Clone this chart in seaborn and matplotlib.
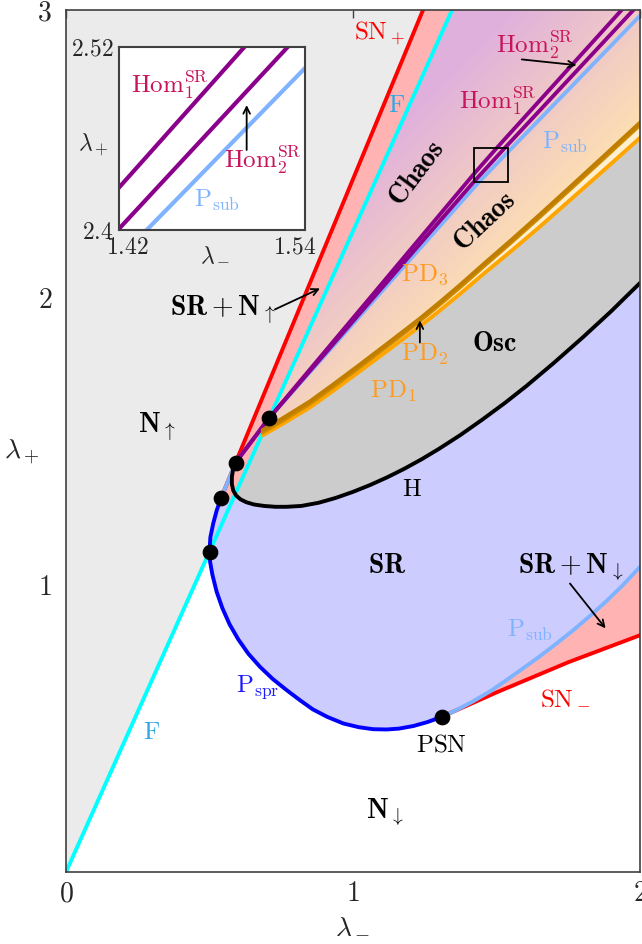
import numpy as np
import matplotlib
matplotlib.use('Agg')
import matplotlib.pyplot as plt
import seaborn as sns
from matplotlib.patches import Polygon, Rectangle
from matplotlib.colors import to_rgb
from matplotlib.transforms import ScaledTranslation

# curves (lambda_-, lambda_+)
F_x = [0.0, 1.345]
F_y = [0.0, 3.0]

SNp_x = [0.540, 0.591, 1.244]
SNp_y = [1.301, 1.425, 3.0]

SNm_x = [1.309, 1.50, 1.75, 2.0]
SNm_y = [0.540, 0.625, 0.730, 0.824]

Pspr_x = [1.309, 1.26, 1.21, 1.16, 1.117, 1.07, 1.02, 0.966, 0.91, 0.86, 0.815, 0.77, 0.72, 0.676,
          0.635, 0.60, 0.57, 0.545, 0.525, 0.510, 0.502, 0.500, 0.503, 0.513, 0.525, 0.540]
Pspr_y = [0.540, 0.522, 0.508, 0.499, 0.496, 0.497, 0.504, 0.517, 0.540, 0.566, 0.598, 0.632, 0.672, 0.714,
          0.760, 0.810, 0.862, 0.918, 0.975, 1.035, 1.080, 1.115, 1.165, 1.213, 1.258, 1.301]

Psub_lo_x = [1.309, 1.36, 1.42, 1.48, 1.535, 1.59, 1.65, 1.71, 1.768, 1.83, 1.88, 1.94, 2.0]
Psub_lo_y = [0.540, 0.563, 0.595, 0.630, 0.668, 0.707, 0.750, 0.796, 0.842, 0.895, 0.940, 0.998, 1.062]

Psub_hi_x = [0.540, 0.591, 0.707, 1.0, 1.4377, 1.54, 1.75, 2.0]
Psub_hi_y = [1.301, 1.425, 1.579, 1.908, 2.40, 2.506, 2.722, 2.98]

Hom1_x = [0.591, 0.707, 1.42, 1.501, 1.936]
Hom1_y = [1.425, 1.579, 2.428, 2.52, 3.0]
Hom2_x = [0.591, 0.707, 1.42, 1.529, 1.977]
Hom2_y = [1.425, 1.579, 2.401, 2.52, 3.0]

H_x = [0.591, 0.582, 0.578, 0.578, 0.583, 0.593, 0.608, 0.628, 0.655, 0.690, 0.730, 0.769, 0.82, 0.88,
       0.94, 1.00, 1.06, 1.12, 1.18, 1.24, 1.30, 1.373, 1.45, 1.53, 1.605, 1.70, 1.80, 1.90, 2.0]
H_y = [1.425, 1.400, 1.375, 1.350, 1.327, 1.310, 1.297, 1.287, 1.279, 1.274, 1.271, 1.271, 1.274, 1.285,
       1.302, 1.323, 1.347, 1.374, 1.404, 1.437, 1.473, 1.520, 1.574, 1.633, 1.692, 1.772, 1.860, 1.952, 2.050]

PD_x = [0.685, 0.75, 0.85, 0.93, 1.024, 1.12, 1.233, 1.30, 1.373, 1.46, 1.55, 1.65, 1.75, 1.87, 2.0]
PD1_y = [1.520, 1.557, 1.617, 1.674, 1.743, 1.814, 1.899, 1.952, 2.012, 2.086, 2.160, 2.245, 2.333, 2.439, 2.555]
PD2_y = [1.530, 1.568, 1.630, 1.688, 1.758, 1.831, 1.918, 1.973, 2.035, 2.112, 2.190, 2.279, 2.370, 2.480, 2.600]
PD3_y = [1.538, 1.576, 1.638, 1.696, 1.766, 1.839, 1.926, 1.981, 2.043, 2.120, 2.198, 2.287, 2.378, 2.488, 2.608]

dots_x = [0.500, 0.540, 0.591, 0.707, 1.309]
dots_y = [1.115, 1.301, 1.425, 1.579, 0.540]

sns.set_theme(style='white')
plt.rcParams['mathtext.fontset'] = 'cm'
plt.rcParams['font.family'] = ['DejaVu Serif']

fig = plt.figure(figsize=(6.42, 9.44), dpi=100)
ax = fig.add_axes([66 / 642, 72 / 944, 574 / 642, 862 / 944])
ax.set_facecolor('white')

def F_at(y):
    return float(np.interp(y, F_y, F_x))

def poly(xs, ys, color, z):
    p = Polygon(np.column_stack([xs, ys]), closed=True, facecolor=color, edgecolor='none', zorder=z)
    ax.add_patch(p)
    return p

# regions
poly([0, F_x[1], 0], [0, 3, 3], '#EBEBEB', 0.5)

lav_x = Pspr_x + [0.591] + H_x[1:] + [2.0] + Psub_lo_x[::-1]
lav_y = Pspr_y + [1.425] + H_y[1:] + [1.062] + Psub_lo_y[::-1]
poly(lav_x, lav_y, '#CCCCFF', 0.8)

poly(PD_x + H_x[::-1], PD1_y + H_y[::-1], '#CCCCCC', 0.9)

poly(Psub_lo_x + SNm_x[::-1], Psub_lo_y + SNm_y[::-1], '#FFB3B3', 1.0)
poly(SNp_x + [F_x[1], F_at(SNp_y[0])], SNp_y + [3.0, SNp_y[0]], '#FFB3B3', 1.0)

# chaos region with purple -> orange shading
gx = np.linspace(0, 2, 300)
gy = np.linspace(0, 3, 450)
GX, GY = np.meshgrid(gx, gy)
t = np.clip((GX - GY + 1.45) / 0.85, 0, 1)[..., None]
c0, c1 = np.array(to_rgb('#E0B0DD')), np.array(to_rgb('#FDDFB2'))
img = c0 + (c1 - c0) * t
grad = Polygon(np.column_stack([[F_at(PD1_y[0]), F_x[1], 2.0] + PD_x[::-1],
                                [PD1_y[0], 3.0, 3.0] + PD1_y[::-1]]),
               closed=True, facecolor='none', edgecolor='none')
ax.add_patch(grad)
im = ax.imshow(img, extent=(0, 2, 0, 3), origin='lower', aspect='auto', zorder=1.1)
im.set_clip_path(grad)
poly(PD_x + PD_x[::-1], PD1_y + PD2_y[::-1], '#FFF0D2', 1.2)

# boundary curves
def curve(a, xs, ys, color, lw=2.8, z=3):
    sns.lineplot(x=xs, y=ys, sort=False, estimator=None, color=color, linewidth=lw,
                 ax=a, zorder=z, solid_capstyle='round', solid_joinstyle='round')

def draw_curves(a, lw):
    curve(a, F_x, F_y, '#00FFFF', lw, 3)
    curve(a, SNp_x, SNp_y, '#FF0000', lw, 3)
    curve(a, SNm_x, SNm_y, '#FF0000', lw, 3)
    curve(a, Psub_hi_x, Psub_hi_y, '#80B3FF', lw, 3.1)
    curve(a, Psub_lo_x, Psub_lo_y, '#80B3FF', lw, 3.1)
    curve(a, Hom2_x, Hom2_y, '#8B008B', lw, 3.2)
    curve(a, Hom1_x, Hom1_y, '#8B008B', lw, 3.2)
    curve(a, PD_x, PD1_y, '#FFA500', lw, 3.3)
    curve(a, PD_x, PD2_y, '#D08A00', lw, 3.3)
    curve(a, PD_x, PD3_y, '#BF7E00', lw, 3.3)
    curve(a, H_x, H_y, '#000000', lw, 3.4)
    curve(a, Pspr_x, Pspr_y, '#0000FF', lw, 3.4)

draw_curves(ax, 2.8)
sns.scatterplot(x=dots_x, y=dots_y, color='black', s=110, edgecolor='black', zorder=5, ax=ax)

ax.add_patch(Rectangle((1.42, 2.40), 0.12, 0.12, fill=False, edgecolor='black', lw=1.3, zorder=6))

ax.set_xlim(0, 2)
ax.set_ylim(0, 3)
ax.set_xticks([0, 1, 2])
ax.set_xticklabels(['$0$', '$1$', '$2$'])
ax.set_yticks([1, 2, 3])
ax.set_yticklabels(['$1$', '$2$', '$3$'])
ax.tick_params(direction='in', top=True, right=True, length=6, width=1, color='#404040',
               labelsize=20)
ax.tick_params(axis='x', pad=6)
ax.tick_params(axis='y', pad=10)
for s in ax.spines.values():
    s.set_color('#404040')
    s.set_linewidth(1.2)
    s.set_zorder(7)
ax.set_xlabel(r'$\lambda_-$', fontsize=20, va='center')
ax.xaxis.set_label_coords(0.5, -0.061)
ax.set_ylabel(r'$\lambda_+$', fontsize=20, rotation=0, va='center', ha='center')
ax.yaxis.set_label_coords(-0.077, 0.487)

crim = '#C8145A'
psub_c = '#80B3FF'
orng = '#FF9B21'
fs, fb = 18, 20
labels = [
    (1.094, 2.92, r'$\mathrm{SN}_+$', 'red', 0, fs),
    (1.153, 2.668, r'$\mathrm{F}$', '#33A6E6', 0, fs),
    (0.30, 0.484, r'$\mathrm{F}$', '#33A6E6', 0, fs),
    (1.634, 2.878, r'$\mathrm{Hom}_2^{\mathrm{SR}}$', crim, 0, fs),
    (1.505, 2.685, r'$\mathrm{Hom}_1^{\mathrm{SR}}$', crim, 0, fs),
    (1.739, 2.54, r'$\mathrm{P}_{\mathrm{sub}}$', psub_c, 0, fs),
    (1.222, 2.432, r'$\mathbf{Chaos}$', 'black', 53, fb),
    (1.46, 2.263, r'$\mathbf{Chaos}$', 'black', 43, fb),
    (1.251, 2.077, r'$\mathrm{PD}_3$', orng, 0, fs),
    (1.251, 1.800, r'$\mathrm{PD}_2$', orng, 0, fs),
    (1.139, 1.671, r'$\mathrm{PD}_1$', orng, 0, fs),
    (0.545, 1.956, r'$\mathbf{SR}+\mathbf{N}_{\uparrow}$', 'black', 0, fb),
    (1.495, 1.841, r'$\mathbf{Osc}$', 'black', 0, fb),
    (0.317, 1.549, r'$\mathbf{N}_{\uparrow}$', 'black', 0, fb),
    (1.206, 1.330, r'$\mathrm{H}$', 'black', 0, fs),
    (1.118, 1.065, r'$\mathbf{SR}$', 'black', 0, fb),
    (1.759, 1.062, r'$\mathbf{SR}+\mathbf{N}_{\downarrow}$', 'black', 0, fb),
    (1.617, 0.842, r'$\mathrm{P}_{\mathrm{sub}}$', psub_c, 0, fs),
    (1.739, 0.609, r'$\mathrm{SN}_-$', 'red', 0, fs),
    (0.669, 0.644, r'$\mathrm{P}_{\mathrm{spr}}$', '#1A1AFF', 0, fs),
    (1.307, 0.442, r'$\mathrm{PSN}$', 'black', 0, fs),
    (1.111, 0.209, r'$\mathbf{N}_{\downarrow}$', 'black', 0, fb),
]
for x, y, s, c, r, f in labels:
    ax.text(x, y, s, color=c, fontsize=f, rotation=r, ha='center', va='center', zorder=8)

arr = dict(arrowstyle='->', color='black', lw=1.3, shrinkA=0, shrinkB=0)
ax.annotate('', xy=(0.885, 2.031), xytext=(0.728, 1.958), arrowprops=arr, zorder=8)
ax.annotate('', xy=(1.779, 2.808), xytext=(1.588, 2.828), arrowprops=arr, zorder=8)
ax.annotate('', xy=(1.233, 1.920), xytext=(1.233, 1.843), arrowprops=arr, zorder=8)
ax.annotate('', xy=(1.880, 0.848), xytext=(1.756, 1.004), arrowprops=arr, zorder=8)

# inset zoom on the homoclinic lines
ins = fig.add_axes([119.3 / 642, (944 - 230) / 944, 185.7 / 642, 183.3 / 944])
ins.set_facecolor('white')
draw_curves(ins, 3.0)
ins.set_xlim(1.42, 1.54)
ins.set_ylim(2.40, 2.52)
ins.set_xticks([1.42, 1.54])
ins.set_xticklabels(['$1.42$', '$1.54$'])
ins.set_yticks([2.40, 2.52])
ins.set_yticklabels(['$2.4$', '$2.52$'])
ins.tick_params(length=0, labelsize=17, pad=4)
for lab, dx in zip(ins.get_xticklabels(), [0.08, -0.1]):
    lab.set_transform(lab.get_transform() + ScaledTranslation(dx, 0, fig.dpi_scale_trans))
for s in ins.spines.values():
    s.set_color('#404040')
    s.set_linewidth(1.5)
    s.set_zorder(7)
ins.set_xlabel(r'$\lambda_-$', fontsize=17, va='center')
ins.xaxis.set_label_coords(0.515, -0.127)
ins.set_ylabel(r'$\lambda_+$', fontsize=17, rotation=0, va='center', ha='center')
ins.yaxis.set_label_coords(-0.14, 0.464)
ins.text(1.4528, 2.495, r'$\mathrm{Hom}_1^{\mathrm{SR}}$', color=crim, fontsize=fs, ha='center', va='center', zorder=8)
ins.text(1.5129, 2.4458, r'$\mathrm{Hom}_2^{\mathrm{SR}}$', color=crim, fontsize=fs, ha='center', va='center', zorder=8)
ins.text(1.4831, 2.4196, r'$\mathrm{P}_{\mathrm{sub}}$', color=psub_c, fontsize=fs, ha='center', va='center', zorder=8)
ins.annotate('', xy=(1.5023, 2.4818), xytext=(1.5023, 2.4524), arrowprops=arr, zorder=8)

fig.savefig('out.png', dpi=100)
